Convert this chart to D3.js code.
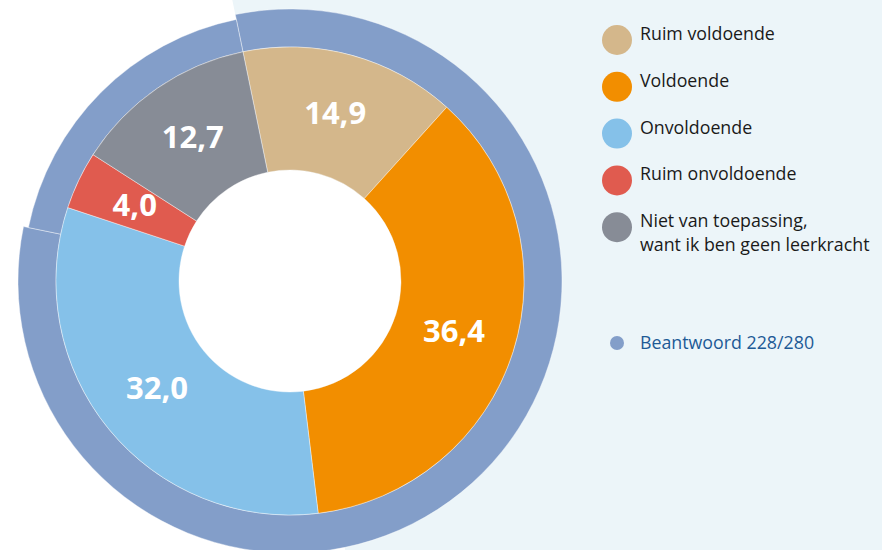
<!DOCTYPE html>
<head>
    <meta charset="utf-8">
    <script src="https://d3js.org/d3.v7.min.js"></script>
    <style>
        body { margin: 0; background: #fff; }
        text { font-family: "Open Sans", "Noto Sans", sans-serif; }
    </style>
</head>
<body>
    <script>
        // data
        const categories = ["Ruim voldoende", "Voldoende", "Onvoldoende", "Ruim onvoldoende", "Niet van toepassing,|want ik ben geen leerkracht"]
        const values = [14.9, 36.4, 32.0, 4.0, 12.7]
        const labels = ["14,9", "36,4", "32,0", "4,0", "12,7"]
        const colors = ["#d4b78b", "#f28e00", "#85c1e9", "#e05b4f", "#878c96"]
        const answered = 228
        const total = 280

        let width = 882,
            height = 550

        let svg = d3.select("body")
            .append("svg")
            .attr("width", width)
            .attr("height", height)

        const cx = 290, cy = 281
        const startAngle = -11.6 * Math.PI / 180

        // light background on the right, bounded by the line through the start angle
        const far = 1000
        const dx = Math.sin(startAngle), dy = -Math.cos(startAngle)
        svg.append("polygon")
            .attr("points", [
                [cx + dx * far, cy + dy * far],
                [width + far, -far],
                [width + far, height + far],
                [cx - dx * far, cy - dy * far]
            ].map(p => p.join(",")).join(" "))
            .style("fill", "#ecf5f9")

        let g = svg.append("g").attr("transform", `translate(${cx},${cy})`)

        ////////////// outer ring: answered vs not answered //////////////
        const ringPie = d3.pie().sort(null).startAngle(startAngle).endAngle(startAngle + 2 * Math.PI)
        const ringData = ringPie([answered, total - answered])
        g.selectAll(".ring")
            .data(ringData)
            .enter().append("path")
            .attr("class", "ring")
            .attr("d", (d, i) => d3.arc().innerRadius(234).outerRadius(i === 0 ? 272 : 267)(d))
            .style("fill", "#839ec9")
            .style("stroke", "rgba(255,255,255,0.5)")
            .style("stroke-width", 0.8)

        ////////////// inner donut //////////////
        const pie = d3.pie().sort(null).startAngle(startAngle).endAngle(startAngle + 2 * Math.PI)
        const arc = d3.arc().innerRadius(111).outerRadius(234)
        const labelArc = d3.arc().innerRadius(172).outerRadius(172)
        const slices = pie(values)

        //white hole
        g.append("circle").attr("r", 111).style("fill", "#fff")

        g.selectAll(".slice")
            .data(slices)
            .enter().append("path")
            .attr("class", "slice")
            .attr("d", arc)
            .style("fill", (d, i) => colors[i])
            .style("stroke", "rgba(255,255,255,0.5)")
            .style("stroke-width", 0.8)

        g.selectAll(".label")
            .data(slices)
            .enter().append("text")
            .attr("class", "label")
            .attr("transform", d => `translate(${labelArc.centroid(d)})`)
            .attr("text-anchor", "middle")
            .attr("dy", "0.3em")
            .style("fill", "#fff")
            .style("font-weight", "bold")
            .style("font-size", "31px")
            .text((d, i) => labels[i])

        ////////////// legend //////////////
        let legend = svg.append("g").attr("transform", "translate(617,40)")
        let items = legend.selectAll(".item")
            .data(categories)
            .enter().append("g")
            .attr("class", "item")
            .attr("transform", (d, i) => `translate(0,${i * 46.8})`)

        items.append("circle")
            .attr("r", 15)
            .style("fill", (d, i) => colors[i])

        items.append("text")
            .attr("x", 23)
            .attr("dy", "0.35em")
            .style("font-size", "17.8px")
            .style("fill", "#1a1a1a")
            .selectAll("tspan")
            .data(d => d.split("|"))
            .enter().append("tspan")
            .attr("x", 23)
            .attr("dy", (d, i) => i === 0 ? 0 : "1.35em")
            .text(d => d)

        let note = svg.append("g").attr("transform", "translate(617,343)")
        note.append("circle").attr("r", 7).style("fill", "#839ec9")
        note.append("text")
            .attr("x", 23)
            .attr("dy", "0.35em")
            .style("font-size", "17.8px")
            .style("fill", "#1d5a96")
            .text(`Beantwoord ${answered}/${total}`)
    </script>
</body>
